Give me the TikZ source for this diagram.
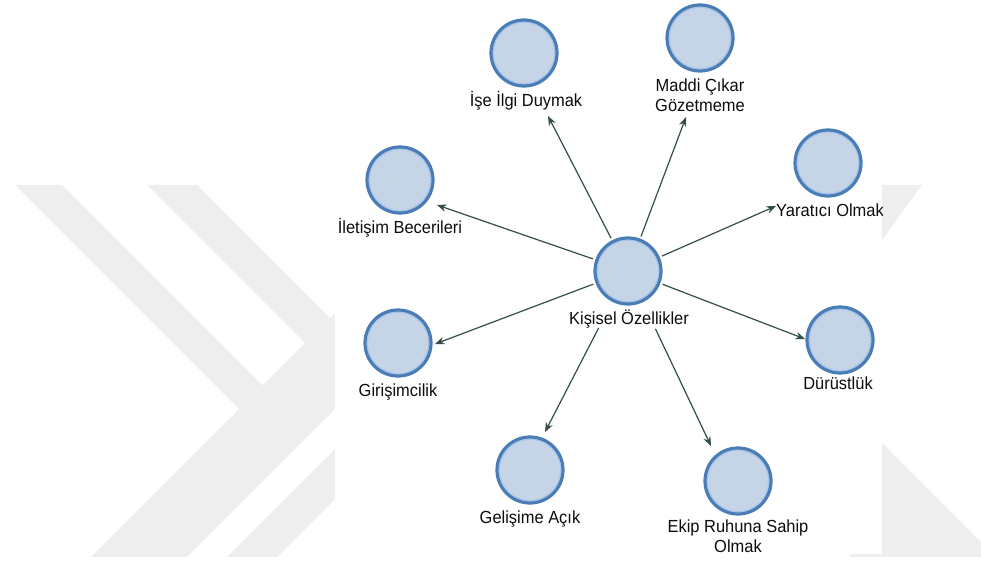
\documentclass[tikz,border=0pt]{standalone}
\usepackage{fontspec}
\setmainfont{Liberation Sans}[FakeStretch=0.94]
\usetikzlibrary{arrows.meta}

\definecolor{wmgray}{RGB}{238,238,238}
\definecolor{nodefill}{RGB}{198,212,232}
\definecolor{nodeline}{RGB}{74,125,182}
\definecolor{nodeinner}{RGB}{165,198,232}
\definecolor{edgecol}{RGB}{52,78,74}

\begin{document}
\begin{tikzpicture}[x=1pt,y=-1pt,
  vnode/.style={circle, minimum size=66pt, inner sep=0pt, fill=nodefill,
    draw=nodeline, line width=3.2pt,
    path picture={\draw[nodeinner, line width=1pt]
      (path picture bounding box.center) circle (30.6pt);}},
  lbl/.style={font=\fontsize{17.5}{19.5}\selectfont, text=black!95,
    align=center, inner sep=0pt},
  arr/.style={draw=edgecol, line width=1.2pt,
    -{Stealth[length=9.5pt,width=7.5pt]}},
]
\useasboundingbox (0,0) rectangle (981,561);

% background chevrons
\begin{scope}
  \clip (0,0) rectangle (981,556);
  \fill[wmgray] (15,185) -- (62,185) -- (262.5,385.5) -- (239,409) -- cycle;
  \fill[wmgray] (147,185) -- (197,185) -- (400,388) -- (400,438) -- cycle;
  \fill[wmgray] (91,557) -- (187,557) -- (400,344) -- (400,248) -- cycle;
  \fill[wmgray] (227,557) -- (277,557) -- (400,434) -- (400,384) -- cycle;
  \fill[wmgray] (850,185) -- (922,185) -- (850,284) -- cycle;
  \fill[wmgray] (850,411) -- (850,557) -- (996,557) -- cycle;
\end{scope}

% diagram panel
\fill[white] (335,0) rectangle (882,554);

\begin{scope}
  \clip (335,0) rectangle (882,554);

  % nodes
  \node[vnode] (ks)   at (628,271) {};
  \node[vnode] (ise)  at (524,53)  {};
  \node[vnode] (mad)  at (700,38)  {};
  \node[vnode] (yar)  at (828,163) {};
  \node[vnode] (ile)  at (400,180) {};
  \node[vnode] (gir)  at (398,343) {};
  \node[vnode] (dur)  at (840,340) {};
  \node[vnode] (gel)  at (530,470) {};
  \node[vnode] (ekip) at (738,481) {};

  % labels
  \node[lbl] (l-ks)   at (629,319) {Kişisel Özellikler};
  \node[lbl] (l-ise)  at (526,101) {İşe İlgi Duymak};
  \node[lbl] (l-mad)  at (700,95)  {Maddi Çıkar\\Gözetmeme};
  \node[lbl] (l-yar)  at (830,210) {Yaratıcı Olmak};
  \node[lbl] (l-ile)  at (400,228) {İletişim Becerileri};
  \node[lbl] (l-gir)  at (398,392) {Girişimcilik};
  \node[lbl] (l-dur)  at (838,383) {Dürüstlük};
  \node[lbl] (l-gel)  at (530,519) {Gelişime Açık};
  \node[lbl] (l-ekip) at (738,536) {Ekip Ruhuna Sahip\\Olmak};

  % arrow ends
  \coordinate (t-ise)  at (548,116);
  \coordinate (t-mad)  at (686,117);
  \coordinate (t-yar)  at (776,206);
  \coordinate (t-ile)  at (437,205);
  \coordinate (t-gir)  at (435,344);
  \coordinate (t-dur)  at (805,339);
  \coordinate (t-gel)  at (545,432);
  \coordinate (t-ekip) at (711,446);

  % connectors
  \draw[arr, shorten <=37pt] (ks.center) -- (t-ise);
  \draw[arr, shorten <=37pt] (ks.center) -- (t-mad);
  \draw[arr, shorten <=37pt] (ks.center) -- (t-yar);
  \draw[arr, shorten <=37pt] (ks.center) -- (t-ile);
  \draw[arr, shorten <=37pt] (ks.center) -- (t-gir);
  \draw[arr, shorten <=37pt] (ks.center) -- (t-dur);
  \draw[arr, shorten <=64pt] (ks.center) -- (t-gel);
  \draw[arr, shorten <=64pt] (ks.center) -- (t-ekip);
\end{scope}
\end{tikzpicture}
\end{document}
